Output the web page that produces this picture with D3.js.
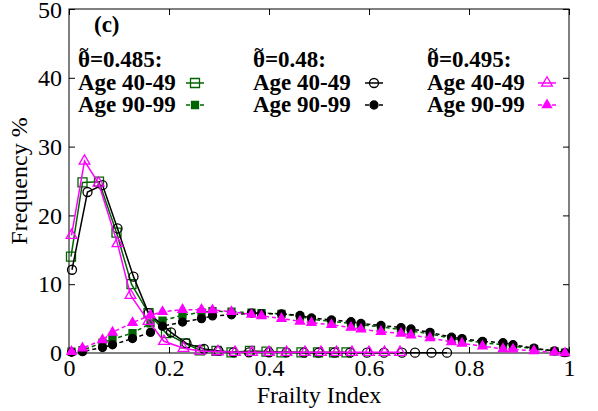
<!DOCTYPE html>
<html>
<head>
<meta charset="utf-8">
<script src="https://cdn.jsdelivr.net/npm/d3@7"></script>
<style>
  body { margin: 0; background: #fff; }
  text { font-family: "Liberation Serif", "Times New Roman", serif; }
</style>
</head>
<body>
<svg id="chart" width="598" height="411"></svg>
<script>
"use strict";

const topLeftX = 69;
const topLeftY = 9;
const bottomRightX = 569;
const bottomRightY = 353;

const GREEN = "#006400";
const MAGENTA = "#ff00ff";
const BLACK = "#000000";

// Age 40-49 (solid lines, open markers)
const fi4049Green = [0.004, 0.027, 0.06, 0.095, 0.125, 0.159, 0.194, 0.232, 0.262, 0.295, 0.325, 0.362, 0.395, 0.425, 0.465, 0.498, 0.53, 0.555];
const freq4049Green = [14.0, 24.8, 24.9, 17.5, 10.0, 5.8, 2.9, 1.4, 0.4, 0.3, 0.1, 0.3, 0.2, 0.1, 0.1, 0.1, 0.1, 0.1];

const fi4049Black = [0.006, 0.037, 0.067, 0.097, 0.129, 0.159, 0.204, 0.235, 0.27, 0.299, 0.329, 0.36, 0.4, 0.435, 0.47, 0.499, 0.531, 0.562, 0.596, 0.63, 0.666, 0.692, 0.725, 0.756];
const freq4049Black = [12.1, 23.4, 24.4, 18.1, 11.1, 5.8, 3.0, 1.4, 0.6, 0.3, 0.1, 0.1, 0.1, 0.1, 0.05, 0.05, 0.05, 0.05, 0.05, 0.05, 0.05, 0.05, 0.05, 0.05];

const fi4049Magenta = [0.005, 0.031, 0.059, 0.097, 0.123, 0.159, 0.19, 0.229, 0.262, 0.298, 0.332, 0.366, 0.4, 0.435, 0.472, 0.504, 0.535, 0.566, 0.6, 0.631, 0.662];
const freq4049Magenta = [17.1, 27.9, 24.7, 15.9, 8.4, 4.6, 1.7, 0.7, 0.3, 0.2, 0.1, 0.1, 0.1, 0.1, 0.1, 0.1, 0.1, 0.1, 0.1, 0.1, 0.1];

// Age 90-99 (dashed lines, filled markers), same FI grid for all three
const fi9099 = [0.005, 0.027, 0.067, 0.087, 0.127, 0.163, 0.187, 0.227, 0.265, 0.287, 0.325, 0.365, 0.385, 0.425, 0.462, 0.485, 0.525, 0.564, 0.584, 0.624, 0.664, 0.684, 0.722, 0.765, 0.786, 0.827, 0.868, 0.888, 0.93, 0.971, 0.992];
const freq9099Green = [0.2, 0.4, 1.5, 2.0, 2.9, 4.3, 4.7, 5.5, 5.9, 6.1, 6.0, 5.85, 5.8, 5.7, 5.3, 4.9, 4.6, 4.3, 4.1, 3.8, 3.4, 3.2, 2.8, 2.1, 1.9, 1.5, 1.2, 1.0, 0.6, 0.25, 0.05];
const freq9099Black = [0.1, 0.2, 0.8, 1.2, 2.1, 3.0, 3.9, 4.5, 5.0, 5.4, 5.55, 5.8, 5.7, 5.7, 5.45, 5.1, 4.8, 4.55, 4.3, 4.0, 3.7, 3.5, 3.0, 2.3, 2.1, 1.7, 1.5, 1.2, 0.7, 0.3, 0.05];
const freq9099Magenta = [0.2, 0.7, 1.9, 3.0, 4.4, 5.5, 6.0, 6.3, 6.3, 6.25, 6.0, 5.6, 5.4, 5.0, 4.6, 4.4, 4.1, 3.7, 3.45, 3.1, 2.85, 2.6, 2.2, 1.6, 1.4, 1.0, 0.6, 0.55, 0.3, 0.1, 0.0];

const xTicks = [0, 0.2, 0.4, 0.6, 0.8, 1];
const yTicks = [0, 10, 20, 30, 40, 50];
const thetaValues = ["=0.485:", "=0.48:", "=0.495:"];
const ageLabels = ["Age 40-49", "Age 90-99"];

const series = [
    { xs: fi4049Green, ys: freq4049Green, color: GREEN, shape: "square", filled: false, dashed: false },
    { xs: fi9099, ys: freq9099Green, color: GREEN, shape: "square", filled: true, dashed: true },
    { xs: fi4049Black, ys: freq4049Black, color: BLACK, shape: "circle", filled: false, dashed: false },
    { xs: fi9099, ys: freq9099Black, color: BLACK, shape: "circle", filled: true, dashed: true },
    { xs: fi4049Magenta, ys: freq4049Magenta, color: MAGENTA, shape: "triangle", filled: false, dashed: false },
    { xs: fi9099, ys: freq9099Magenta, color: MAGENTA, shape: "triangle", filled: true, dashed: true }
];

function symbolPath(shape, filled) {
    let type, size;
    if (shape == "square") { type = d3.symbolSquare; size = filled ? 49 : 81; }
    else if (shape == "circle") { type = d3.symbolCircle; size = filled ? 50 : 64; }
    else { type = d3.symbolTriangle; size = filled ? 36 : 50; }
    return d3.symbol().type(type).size(size)();
}

function drawMarker(g, shape, filled, color, x, y) {
    g.append("path")
        .attr("d", symbolPath(shape, filled))
        .attr("transform", `translate(${x},${y})`)
        .attr("fill", filled ? color : "none")
        .attr("stroke", color)
        .attr("stroke-width", 1.3);
}

function init() {
    const svg = d3.select("#chart");

    const xScale = d3.scaleLinear().domain([0, 1]).range([topLeftX, bottomRightX]);
    const yScale = d3.scaleLinear().domain([0, 50]).range([bottomRightY, topLeftY]);

    // frame
    svg.append("rect")
        .attr("x", topLeftX).attr("y", topLeftY)
        .attr("width", bottomRightX - topLeftX)
        .attr("height", bottomRightY - topLeftY)
        .attr("fill", "none").attr("stroke", "#000").attr("stroke-width", 1);

    // ticks pointing inward, mirrored on all sides
    const tickLen = 6;
    svg.append("g")
        .attr("transform", `translate(0,${bottomRightY})`)
        .call(d3.axisBottom(xScale).tickValues(xTicks).tickSizeInner(-tickLen).tickSizeOuter(0).tickPadding(6).tickFormat(d3.format("")))
        .call(g => g.select(".domain").remove())
        .call(g => g.selectAll("text").attr("font-size", 24).attr("fill", "#000"));
    svg.append("g")
        .attr("transform", `translate(0,${topLeftY})`)
        .call(d3.axisTop(xScale).tickValues(xTicks).tickSizeInner(-tickLen).tickSizeOuter(0).tickFormat(""))
        .call(g => g.select(".domain").remove());
    svg.append("g")
        .attr("transform", `translate(${topLeftX},0)`)
        .call(d3.axisLeft(yScale).tickValues(yTicks).tickSizeInner(-tickLen).tickSizeOuter(0).tickPadding(7))
        .call(g => g.select(".domain").remove())
        .call(g => g.selectAll("text").attr("font-size", 24).attr("fill", "#000"))
        .call(g => g.selectAll(".tick").filter(d => d == 50).select("text").attr("dy", "0.36em"));
    svg.append("g")
        .attr("transform", `translate(${bottomRightX},0)`)
        .call(d3.axisRight(yScale).tickValues(yTicks).tickSizeInner(-tickLen).tickSizeOuter(0).tickFormat(""))
        .call(g => g.select(".domain").remove());

    // axis titles
    svg.append("text")
        .attr("x", (topLeftX + bottomRightX) / 2).attr("y", 403)
        .attr("text-anchor", "middle").attr("font-size", 24)
        .text("Frailty Index");
    svg.append("text")
        .attr("transform", `translate(27,${(topLeftY + bottomRightY) / 2}) rotate(-90)`)
        .attr("text-anchor", "middle").attr("font-size", 24)
        .text("Frequency %");

    // data
    const plot = svg.append("g");
    series.forEach(function(s) {
        let pts = s.xs.map((x, i) => [xScale(x), yScale(s.ys[i])]);
        plot.append("path")
            .attr("d", d3.line()(pts))
            .attr("fill", "none")
            .attr("stroke", s.color)
            .attr("stroke-width", 1.5)
            .attr("stroke-dasharray", s.dashed ? "4,3" : null);
        pts.forEach(p => drawMarker(plot, s.shape, s.filled, s.color, p[0], p[1]));
    });

    // panel label
    svg.append("text")
        .attr("x", 94).attr("y", 32)
        .attr("font-size", 23).attr("font-weight", "bold")
        .text("(c)");

    // legend
    const colX = [78, 253, 427];
    const sampleX = [195, 374, 547];
    const rowY = [67, 90, 112];
    const shapes = ["square", "circle", "triangle"];
    const colors = [GREEN, BLACK, MAGENTA];
    const legend = svg.append("g");
    thetaValues.forEach(function(val, c) {
        let t = legend.append("text")
            .attr("x", colX[c]).attr("y", rowY[0])
            .attr("font-size", 23).attr("font-weight", "bold");
        t.append("tspan").text("θ");
        t.append("tspan").text(val);
        // tilde over theta
        legend.append("text")
            .attr("x", colX[c] + 6).attr("y", rowY[0] - 12)
            .attr("text-anchor", "middle")
            .attr("font-size", 17).attr("font-weight", "bold")
            .text("~");
        ageLabels.forEach(function(age, r) {
            let y = rowY[r + 1];
            legend.append("text")
                .attr("x", colX[c]).attr("y", y)
                .attr("font-size", 23).attr("font-weight", "bold")
                .text(age);
            legend.append("line")
                .attr("x1", sampleX[c] - 9).attr("x2", sampleX[c] + 9)
                .attr("y1", y - 7).attr("y2", y - 7)
                .attr("stroke", colors[c]).attr("stroke-width", 1.5)
                .attr("stroke-dasharray", r == 1 ? "4,3" : null);
            drawMarker(legend, shapes[c], r == 1, colors[c], sampleX[c], y - 7);
        });
    });
}

window.addEventListener("load", init);
</script>
</body>
</html>
